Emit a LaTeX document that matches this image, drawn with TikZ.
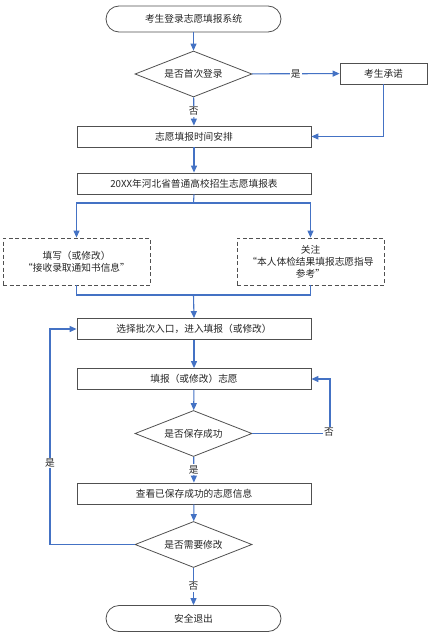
\documentclass[tikz,border=0pt]{standalone}
\usepackage{fontspec}
\setmainfont{Noto Sans CJK SC}
\usetikzlibrary{shapes.geometric,arrows.meta}
\definecolor{lineblue}{HTML}{4472C4}
\definecolor{boxgray}{HTML}{505050}
\definecolor{txtgray}{HTML}{262626}
\tikzset{
  every node/.style={font=\fontsize{9.7}{12}\selectfont, text=txtgray},
  procbox/.style={draw=boxgray, line width=0.8pt, minimum width=234pt, minimum height=21pt, inner sep=0pt},
  termbox/.style={draw=boxgray, line width=0.8pt, rounded corners=13pt, minimum width=175pt, minimum height=26pt, inner sep=0pt},
  decbox/.style={draw=boxgray, line width=0.8pt, diamond, aspect=2.55, minimum width=117pt, minimum height=46pt, inner sep=0pt},
  dashbox/.style={draw=boxgray, dashed, dash pattern=on 4pt off 2.5pt, line width=0.8pt, minimum width=147pt, minimum height=47pt, inner sep=0pt, align=center},
  sidebox/.style={draw=boxgray, line width=0.8pt, minimum width=87pt, minimum height=21pt, inner sep=0pt},
  conn/.style={draw=lineblue, line width=1.1pt, -{Triangle[width=6pt,length=7pt]}},
  plain/.style={draw=lineblue, line width=1.1pt},
  lbl/.style={fill=white, inner sep=1pt}
}
\begin{document}
\begin{tikzpicture}[x=1pt,y=-1pt]
\useasboundingbox (0,0) rectangle (431,634);
\node[termbox] (start) at (193.5,19) {考生登录志愿填报系统};
\node[decbox] (d1) at (193.5,74) {是否首次登录};
\node[sidebox] (promise) at (383.5,73.5) {考生承诺};
\node[procbox] (time) at (194,136.5) {志愿填报时间安排};
\node[procbox] (table) at (194,183.5) {20XX年河北省普通高校招生志愿填报表};
\node[dashbox] (fill) at (76.5,261.5) {填写（或修改）\\“接收录取通知书信息”};
\node[dashbox] (care) at (310.5,261.5) {关注\\“本人体检结果填报志愿指导\\参考”};
\node[procbox] (choose) at (194,329) {选择批次入口，进入填报（或修改）};
\node[procbox] (apply) at (194,379) {填报（或修改）志愿};
\node[decbox] (d2) at (193.5,433.5) {是否保存成功};
\node[procbox] (view) at (194,493.5) {查看已保存成功的志愿信息};
\node[decbox] (d3) at (193.5,544.5) {是否需要修改};
\node[termbox] (stop) at (193.5,618.5) {安全退出};

\coordinate (split) at (193.5,203);
\coordinate (join) at (193.5,295);
\coordinate (rloop) at (330,433.5);
\coordinate (lloop) at (50,544.5);

\draw[conn] (start) -- (d1);
\draw[conn] (d1) -- node[lbl, pos=0.5]{是} (promise);
\draw[conn] (d1) -- node[lbl, pos=0.5]{否} (time);
\draw[conn] (promise.south) |- (time.east);
\draw[conn] (time) -- (table);
\draw[plain] (table.south) -- (split);
\draw[conn] (split) -| (fill.north);
\draw[conn] (split) -| (care.north);
\draw[plain] (fill.south) |- (join);
\draw[plain] (care.south) |- (join);
\draw[conn] (join) -- (choose.north);
\draw[conn] (choose) -- (apply);
\draw[conn] (apply) -- (d2);
\draw[plain] (d2.east) -- (rloop);
\draw[conn] (rloop) |- (apply.east);
\node[lbl] (no2) at (329,432) {否};
\draw[conn] (d2) -- node[lbl, pos=0.5]{是} (view);
\draw[conn] (view) -- (d3);
\draw[plain] (d3.west) -- (lloop);
\draw[conn] (lloop) |- (choose.west);
\node[lbl] (yes3) at (50,463) {是};
\draw[conn] (d3) -- node[lbl, pos=0.5]{否} (stop);
\end{tikzpicture}
\end{document}
